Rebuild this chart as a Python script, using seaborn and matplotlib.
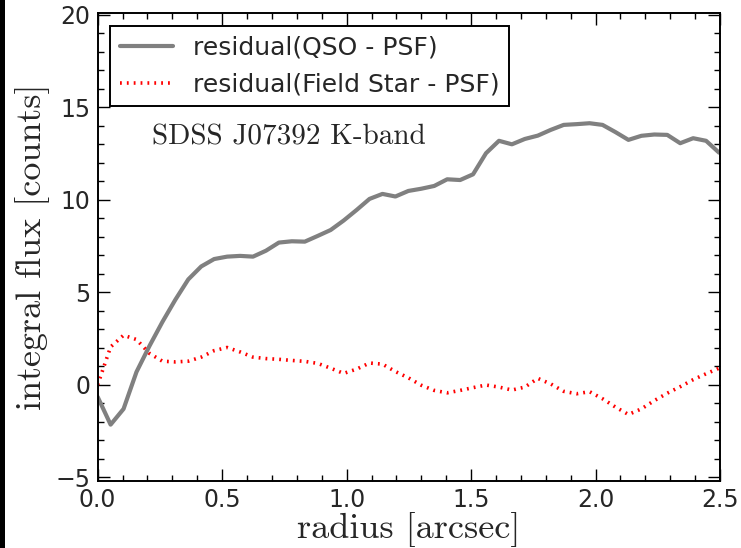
import numpy as np
import pandas as pd
import matplotlib
matplotlib.use("Agg")
import matplotlib.pyplot as plt
from matplotlib.ticker import MultipleLocator
from matplotlib.patches import Rectangle
import seaborn as sns

# radius grid [arcsec]
radius = [0.000, 0.052, 0.104, 0.156, 0.208, 0.260, 0.312, 0.364, 0.416, 0.468,
          0.520, 0.572, 0.624, 0.676, 0.728, 0.780, 0.832, 0.884, 0.936, 0.988,
          1.040, 1.092, 1.144, 1.196, 1.248, 1.300, 1.352, 1.404, 1.456, 1.508,
          1.560, 1.612, 1.664, 1.716, 1.768, 1.820, 1.872, 1.924, 1.976, 2.028,
          2.080, 2.132, 2.184, 2.236, 2.288, 2.340, 2.392, 2.444, 2.496]

# residual(QSO - PSF)
qso = [-0.65, -2.15, -1.3, 0.7, 2.1, 3.4, 4.6, 5.7, 6.4, 6.8,
       6.93, 6.97, 6.93, 7.25, 7.69, 7.76, 7.74, 8.05, 8.37, 8.88,
       9.45, 10.05, 10.32, 10.18, 10.48, 10.6, 10.75, 11.11, 11.07, 11.38,
       12.52, 13.19, 13.0, 13.29, 13.47, 13.78, 14.05, 14.09, 14.14, 14.05,
       13.66, 13.24, 13.46, 13.53, 13.51, 13.06, 13.33, 13.19, 12.55]

# residual(Field Star - PSF)
star = [0.0, 2.05, 2.68, 2.45, 1.7, 1.28, 1.24, 1.28, 1.5, 1.85,
        2.02, 1.78, 1.5, 1.42, 1.38, 1.32, 1.27, 1.16, 0.9, 0.62,
        0.85, 1.18, 1.12, 0.72, 0.38, -0.02, -0.3, -0.43, -0.3, -0.15,
        -0.01, -0.12, -0.28, -0.12, 0.35, 0.05, -0.35, -0.48, -0.37, -0.75,
        -1.2, -1.6, -1.3, -0.85, -0.45, -0.1, 0.28, 0.6, 0.9]

df = pd.DataFrame({"radius": radius, "qso": qso, "star": star})

sns.set_style("ticks")
plt.rcParams["font.family"] = ["DejaVu Sans"]

fig = plt.figure(figsize=(7.41, 5.48), dpi=100)
ax = fig.add_axes([0.1318, 0.1228, 0.8399, 0.8529])

sns.lineplot(data=df, x="radius", y="qso", ax=ax, color="#808080", lw=3,
             label="residual(QSO - PSF)")
sns.lineplot(data=df, x="radius", y="star", ax=ax, color="red", lw=2.6,
             linestyle=(0, (0.5, 1.4)), label="residual(Field Star - PSF)")

ax.set_xlim(0, 2.5)
ax.set_ylim(-5.18, 20.08)
ax.xaxis.set_major_locator(MultipleLocator(0.5))
ax.xaxis.set_minor_locator(MultipleLocator(0.1))
ax.yaxis.set_major_locator(MultipleLocator(5))
ax.yaxis.set_minor_locator(MultipleLocator(1))
ax.tick_params(which="both", direction="in", top=True, right=True,
               width=1, color="black", labelsize=17)
ax.tick_params(which="major", length=8.5, pad=5)
ax.tick_params(which="minor", length=4.5)
for s in ax.spines.values():
    s.set_linewidth(1.4)
    s.set_color("black")

ax.set_xlabel("radius [arcsec]", fontfamily="cmr10", fontsize=26, labelpad=0)
ax.set_ylabel("integral flux [counts]", fontfamily="cmr10", fontsize=26, labelpad=4)

ax.text(0.087, 0.735, "SDSS J07392 K-band", transform=ax.transAxes,
        fontfamily="cmr10", fontsize=21, va="center", ha="left")

leg = ax.legend(loc="upper left", fontsize=18, handlelength=2.1,
                borderaxespad=0.5, fancybox=False, framealpha=1,
                edgecolor="black")
leg.get_frame().set_linewidth(1.4)

# dark border left over from the page crop
fig.patches.append(Rectangle((0, 0), 5 / 741, 1, transform=fig.transFigure,
                             facecolor="black", edgecolor="none"))

fig.savefig("out.png", dpi=100)
